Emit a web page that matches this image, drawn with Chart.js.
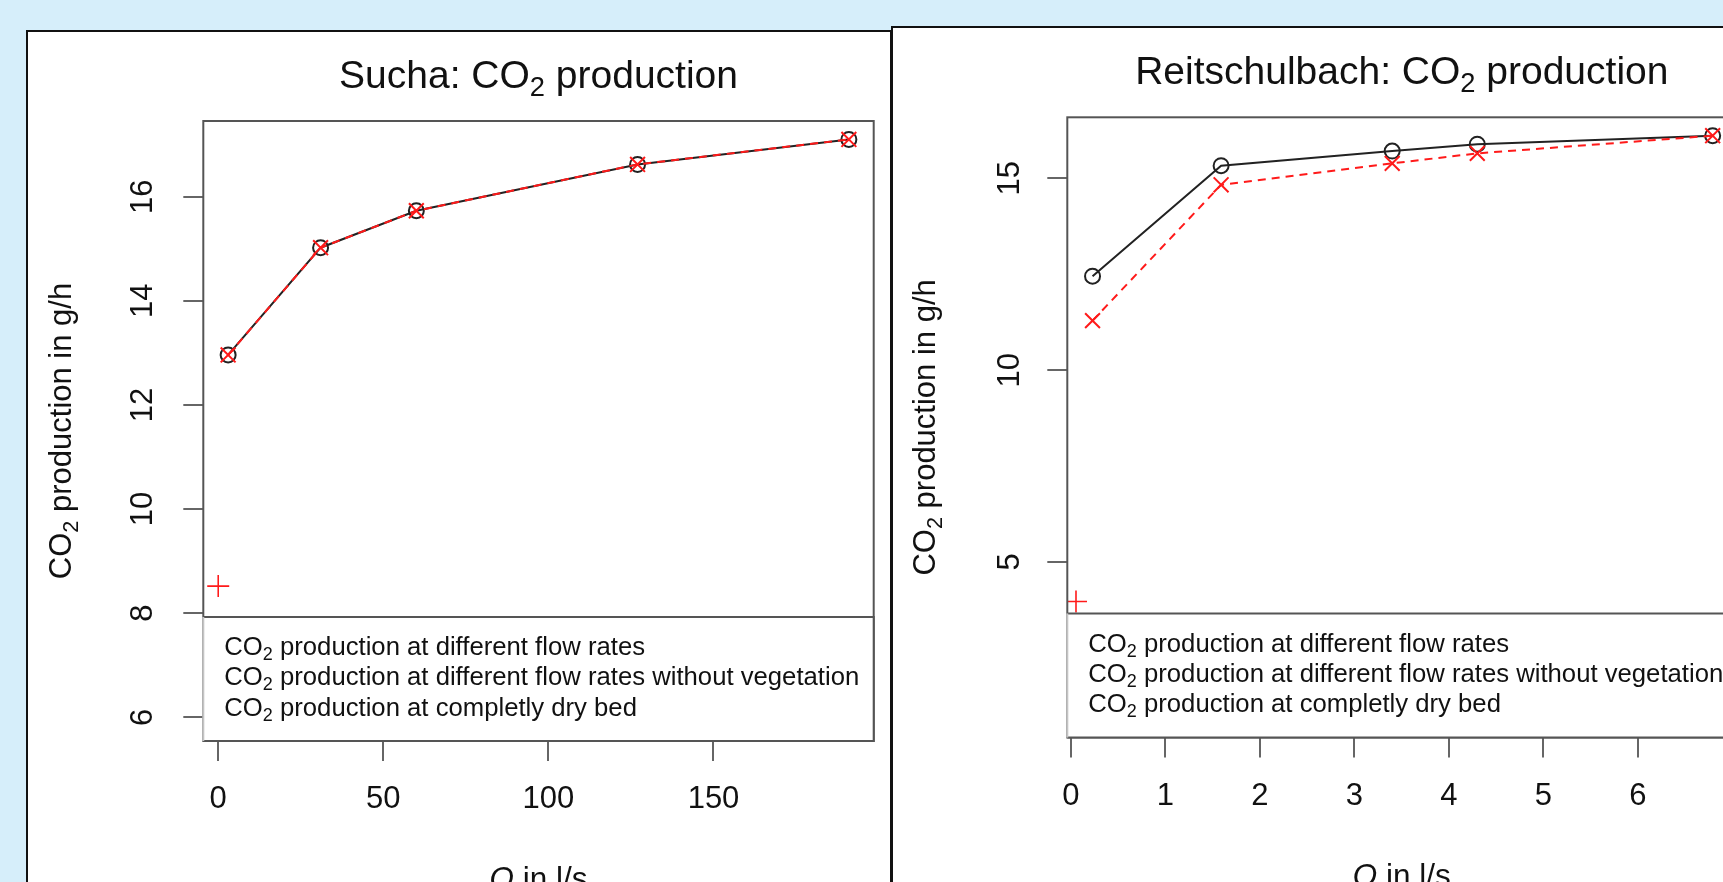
<!DOCTYPE html>
<html>
<head>
<meta charset="utf-8">
<script src="https://cdn.jsdelivr.net/npm/chart.js@4.4.1/dist/chart.umd.min.js"></script>
<style>
body{margin:0;background:#d6eefa;width:1723px;height:882px;overflow:hidden;position:relative}
.panel{position:absolute;background:#fff;border:2px solid #111}
#p1{left:26px;top:30px}
#p2{left:891px;top:26px}
canvas{display:block}
</style>
</head>
<body>
<div class="panel" id="p1"><canvas id="sucha" width="862" height="900"></canvas></div>
<div class="panel" id="p2"><canvas id="reit" width="874" height="900"></canvas></div>
<script>
// Sucha
const suchaQ = [3, 31, 60, 127, 191];
const suchaCO2 = [12.96, 15.02, 15.73, 16.62, 17.1];
const suchaCO2NoVeg = [12.96, 15.02, 15.73, 16.62, 17.1];
const suchaDryQ = [0];
const suchaDry = [8.52];
const suchaXTicks = [0, 50, 100, 150];
const suchaYTicks = [6, 8, 10, 12, 14, 16];

// Reitschulbach
const reitQ = [0.23, 1.59, 3.40, 4.30, 6.79];
const reitCO2 = [12.45, 15.33, 15.71, 15.89, 16.11];
const reitCO2NoVeg = [11.29, 14.83, 15.39, 15.65, 16.11];
const reitDryQ = [0.055];
const reitDry = [3.97];
const reitXTicks = [0, 1, 2, 3, 4, 5, 6, 7];
const reitYTicks = [5, 10, 15];

const legendLabels = [
  'CO₂ production at different flow rates',
  'CO₂ production at different flow rates without vegetation',
  'CO₂ production at completly dry bed'
];
const yTitle = 'CO₂ production in g/h';
const xVar = 'Q', xUnit = ' in l/s';

const FONT = '"Liberation Sans", Arial, Helvetica, sans-serif';
const BOX = '#555';

// split text so that ₂ is drawn as a real subscript
function segs(text, size, italic) {
  const out = [];
  text.split('₂').forEach((p, i) => {
    if (i > 0) out.push({t: '2', size: size * 0.7, dy: size * 0.2});
    if (p) out.push({t: p, size: size, dy: 0, italic: italic});
  });
  return out;
}
function drawSegs(ctx, list, x, y, align) {
  let w = 0;
  list.forEach(s => {
    ctx.font = (s.italic ? 'italic ' : '') + s.size + 'px ' + FONT;
    s.w = ctx.measureText(s.t).width;
    w += s.w;
  });
  let cx = align == 'center' ? x - w / 2 : x;
  ctx.textAlign = 'left';
  ctx.textBaseline = 'alphabetic';
  list.forEach(s => {
    ctx.font = (s.italic ? 'italic ' : '') + s.size + 'px ' + FONT;
    ctx.fillText(s.t, cx, y + s.dy);
    cx += s.w;
  });
}

const rPlot = {
  id: 'rPlot',
  afterDatasetsDraw(chart, args, o) {
    const ctx = chart.ctx, ca = chart.chartArea;
    ctx.save();
    ctx.lineWidth = 2;
    ctx.strokeStyle = BOX;
    ctx.strokeRect(ca.left, ca.top, ca.right - ca.left, ca.bottom - ca.top);
    // legend box
    const lt = ca.bottom - 124;
    ctx.fillStyle = '#fff';
    ctx.fillRect(ca.left, lt, ca.right - ca.left, ca.bottom - lt);
    ctx.beginPath();
    ctx.moveTo(ca.left, lt); ctx.lineTo(ca.right, lt);
    ctx.lineTo(ca.right, ca.bottom); ctx.lineTo(ca.left, ca.bottom);
    ctx.stroke();
    ctx.strokeStyle = '#c4c4c4';
    ctx.beginPath(); ctx.moveTo(ca.left, lt); ctx.lineTo(ca.left, ca.bottom); ctx.stroke();
    ctx.fillStyle = '#111';
    chart.data.datasets.forEach((ds, i) => {
      drawSegs(ctx, segs(ds.label, 25.7), ca.left + 21, lt + 38 + i * 30.3, 'left');
    });
    ctx.restore();
  },
  afterDraw(chart, args, o) {
    const ctx = chart.ctx, ca = chart.chartArea;
    const mid = (ca.left + ca.right) / 2;
    ctx.save();
    ctx.fillStyle = '#111';
    drawSegs(ctx, segs(o.title, 39), mid, ca.top - 33, 'center');
    drawSegs(ctx, [{t: xVar, size: 31.5, dy: 0, italic: true}].concat(segs(xUnit, 31.5)), mid, ca.bottom + 148, 'center');
    ctx.translate(ca.left - 140, (ca.top + ca.bottom) / 2);
    ctx.rotate(-Math.PI / 2);
    drawSegs(ctx, segs(yTitle, 31), 0, 8, 'center');
    ctx.restore();
  }
};

function pts(xs, ys) { return xs.map((x, i) => ({x: x, y: ys[i]})); }

function makeChart(id, title, q, a, b, dq, d, xt, yt, lim, g) {
  const tickFont = {family: FONT, size: 31};
  const grid = {drawOnChartArea: false, color: '#666', lineWidth: 2, tickLength: 20};
  return new Chart(id, {
    type: 'scatter',
    data: {
      datasets: [{
        label: legendLabels[0],
        data: pts(q, a),
        showLine: true,
        borderColor: '#222',
        borderWidth: 2,
        pointStyle: 'circle',
        pointRadius: 7.5,
        pointBorderWidth: 2,
        pointBorderColor: '#222',
        pointBackgroundColor: 'rgba(0,0,0,0)',
        order: 2
      }, {
        label: legendLabels[1],
        data: pts(q, b),
        showLine: true,
        borderColor: '#ff1a1a',
        borderWidth: 2,
        borderDash: [8, 6],
        pointStyle: 'crossRot',
        pointRadius: 10.5,
        pointBorderWidth: 2,
        pointBorderColor: '#ff1a1a',
        order: 1
      }, {
        label: legendLabels[2],
        data: pts(dq, d),
        showLine: false,
        pointStyle: 'cross',
        pointRadius: 11,
        pointBorderWidth: 1.6,
        pointBorderColor: '#ff1a1a',
        order: 0
      }]
    },
    options: {
      responsive: false,
      animation: false,
      devicePixelRatio: 1,
      layout: {padding: {left: 0, right: g.right, top: g.top, bottom: 0}},
      plugins: {
        legend: {display: false},
        title: {display: false},
        tooltip: {enabled: false},
        rPlot: {title: title}
      },
      scales: {
        x: {
          type: 'linear', min: lim[0], max: lim[1],
          afterBuildTicks: s => { s.ticks = xt.map(v => ({value: v})); },
          afterFit: s => { s.height = g.xh; },
          grid: grid,
          border: {display: false},
          ticks: {font: tickFont, color: '#111', padding: 20, maxRotation: 0, autoSkip: false}
        },
        y: {
          type: 'linear', min: lim[2], max: lim[3],
          afterBuildTicks: s => { s.ticks = yt.map(v => ({value: v})); },
          afterFit: s => { s.width = g.yw; },
          grid: grid,
          border: {display: false},
          ticks: {font: tickFont, color: '#111', padding: g.yp, minRotation: 90, maxRotation: 90, crossAlign: 'center', autoSkip: false}
        }
      }
    },
    plugins: [rPlot]
  });
}

makeChart('sucha', 'Sucha: CO₂ production', suchaQ, suchaCO2, suchaCO2NoVeg, suchaDryQ, suchaDry,
  suchaXTicks, suchaYTicks, [-4.52, 198.52, 5.545, 17.454],
  {top: 89, right: 16.3, yw: 175.3, xh: 191, yp: 23});
makeChart('reit', 'Reitschulbach: CO₂ production', reitQ, reitCO2, reitCO2NoVeg, reitDryQ, reitDry,
  reitXTicks, reitYTicks, [-0.037, 7.04, 0.426, 16.59],
  {top: 89.3, right: 30.7, yw: 174.3, xh: 190.5, yp: 20});
</script>
</body>
</html>
